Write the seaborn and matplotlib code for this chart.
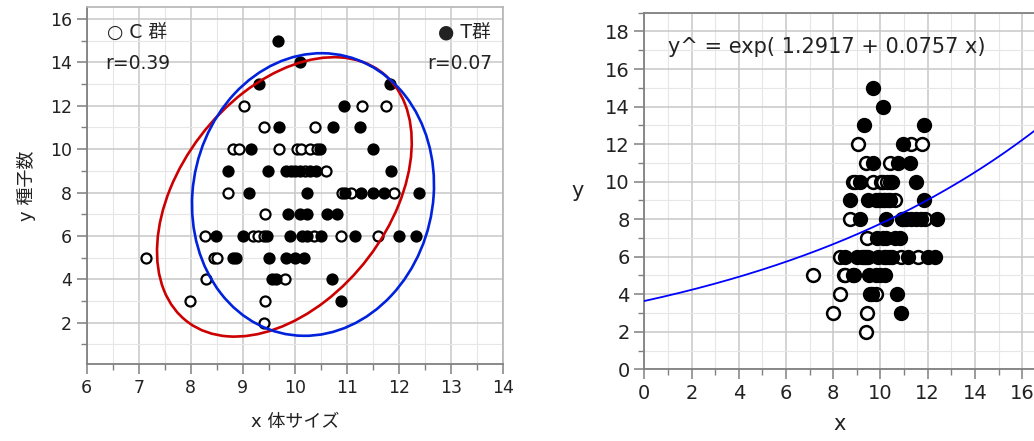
import numpy as np
import pandas as pd
import matplotlib
matplotlib.use("Agg")
import matplotlib.pyplot as plt
import seaborn as sns
from matplotlib.patches import Ellipse
from matplotlib.ticker import MultipleLocator

# ---------------- data ----------------
c_x = [9.03, 11.29, 11.76, 9.40, 10.39, 8.82, 8.93, 9.70, 10.04, 10.12, 10.29, 10.42,
       9.92, 10.20, 10.60, 8.71, 10.90, 11.08, 11.90, 9.42, 8.27, 9.20, 9.30, 9.40,
       10.36, 10.88, 11.60, 7.15, 8.45, 8.51, 8.29, 9.81, 7.99, 9.42, 9.40]
c_y = [12, 12, 12, 11, 11, 10, 10, 10, 10, 10, 10, 10,
       9, 9, 9, 8, 8, 8, 8, 7, 6, 6, 6, 6,
       6, 6, 6, 5, 5, 5, 4, 4, 3, 3, 2]
t_x = [9.67, 10.10, 9.31, 11.83, 10.94, 9.69, 10.73, 11.26, 9.15, 10.49, 11.50,
       8.71, 9.49, 9.83, 10.00, 10.10, 10.30, 10.40, 11.85,
       9.12, 10.23, 10.97, 11.28, 11.50, 11.72, 12.38,
       9.86, 10.10, 10.23, 10.62, 10.82,
       8.48, 9.01, 9.47, 9.90, 10.13, 10.23, 10.50, 11.15, 12.00, 12.32,
       8.82, 8.87, 9.51, 9.83, 10.00, 10.18,
       9.56, 9.64, 10.71, 10.88]
t_y = [15, 14, 13, 13, 12, 11, 11, 11, 10, 10, 10,
       9, 9, 9, 9, 9, 9, 9, 9,
       8, 8, 8, 8, 8, 8, 8,
       7, 7, 7, 7, 7,
       6, 6, 6, 6, 6, 6, 6, 6, 6, 6,
       5, 5, 5, 5, 5, 5,
       4, 4, 4, 3]
r_c = 0.39
r_t = 0.07
# 95% density ellipse parameters (mean x, mean y, sd x, sd y)
ell_c = [9.80, 7.80, 1.00, 2.63]
ell_t = [10.35, 7.91, 0.95, 2.66]
b0, b1 = 1.2917, 0.0757
eq_text = "y^ = exp( 1.2917 + 0.0757 x)"

df_c = pd.DataFrame({"x": c_x, "y": c_y})
df_t = pd.DataFrame({"x": t_x, "y": t_y})

sns.set_style("white")
plt.rcParams["font.family"] = ["DejaVu Sans", "Noto Sans CJK JP"]

fig = plt.figure(figsize=(10.34, 4.41), dpi=100)
axL = fig.add_axes([0.0838, 0.1746, 0.4026, 0.8095])
axR = fig.add_axes([0.6231, 0.1626, 0.3769, 0.8086])

MAJ = "#c8c8c8"
MIN = "#e6e6e6"


def style_axes(ax, lab_size):
    ax.set_axisbelow(True)
    ax.grid(which="major", color=MAJ, lw=1.1)
    ax.grid(which="minor", color=MIN, lw=0.8)
    ax.tick_params(which="major", length=7, width=1.1, color="#808080",
                   labelsize=lab_size, labelcolor="#222222", direction="out",
                   bottom=True, left=True)
    ax.tick_params(which="minor", length=4, width=1.0, color="#808080",
                   direction="out", bottom=True, left=True)


# ---------------- left panel ----------------
sns.scatterplot(data=df_c, x="x", y="y", ax=axL, marker="o", s=52,
                facecolor="white", edgecolor="black", linewidth=1.6, zorder=3)
sns.scatterplot(data=df_t, x="x", y="y", ax=axL, marker="o", s=52,
                color="black", edgecolor="black", linewidth=1.6, zorder=4)


def density_ellipse(ax, params, r, color):
    mx, my, sx, sy = params
    cov = np.array([[sx * sx, r * sx * sy], [r * sx * sy, sy * sy]])
    vals, vecs = np.linalg.eigh(cov)
    order = vals.argsort()[::-1]
    vals, vecs = vals[order], vecs[:, order]
    k = np.sqrt(5.991)
    ang = np.degrees(np.arctan2(vecs[1, 0], vecs[0, 0]))
    e = Ellipse((mx, my), 2 * k * np.sqrt(vals[0]), 2 * k * np.sqrt(vals[1]),
                angle=ang, fill=False, edgecolor=color, lw=1.9, zorder=5)
    ax.add_patch(e)


density_ellipse(axL, ell_c, r_c, "#cc0000")
density_ellipse(axL, ell_t, r_t, "#0022dd")

axL.set_xlim(6, 14)
axL.set_ylim(0.1, 16.55)
axL.xaxis.set_major_locator(MultipleLocator(1))
axL.xaxis.set_minor_locator(MultipleLocator(0.5))
axL.yaxis.set_major_locator(MultipleLocator(2))
axL.yaxis.set_minor_locator(MultipleLocator(1))
style_axes(axL, 12.5)
for s in ["left", "bottom"]:
    axL.spines[s].set_color("#808080")
    axL.spines[s].set_linewidth(1.3)
for s in ["top", "right"]:
    axL.spines[s].set_color("#b4b4b4")
    axL.spines[s].set_linewidth(1.2)
axL.set_xlabel("x 体サイズ", fontsize=13, color="#222222", labelpad=12)
axL.set_ylabel("y 種子数", fontsize=13, color="#222222", labelpad=10)

axL.text(0.05, 0.927, "○ C 群", transform=axL.transAxes, fontsize=13.5,
         ha="left", va="center", color="#222222")
axL.text(0.045, 0.843, f"r={r_c:.2f}", transform=axL.transAxes, fontsize=13.5,
         ha="left", va="center", color="#222222")
axL.text(0.97, 0.927, "● T群", transform=axL.transAxes, fontsize=13.5,
         ha="right", va="center", color="#222222")
axL.text(0.975, 0.843, f"r={r_t:.2f}", transform=axL.transAxes, fontsize=13.5,
         ha="right", va="center", color="#222222")

# ---------------- right panel ----------------
sns.scatterplot(data=df_c, x="x", y="y", ax=axR, marker="o", s=85,
                facecolor="white", edgecolor="black", linewidth=1.8, zorder=3)
sns.scatterplot(data=df_t, x="x", y="y", ax=axR, marker="o", s=85,
                color="black", edgecolor="black", linewidth=1.8, zorder=4)
curve_x = np.linspace(0, 16.6, 200)
curve_y = np.exp(b0 + b1 * curve_x)
sns.lineplot(x=curve_x, y=curve_y, ax=axR, color="#0000ff", lw=1.3, zorder=5)

axR.set_xlim(0, 16.5)
axR.set_ylim(0, 19.0)
axR.xaxis.set_major_locator(MultipleLocator(2))
axR.xaxis.set_minor_locator(MultipleLocator(1))
axR.yaxis.set_major_locator(MultipleLocator(2))
axR.yaxis.set_minor_locator(MultipleLocator(1))
style_axes(axR, 14)
for s in ["left", "bottom", "top"]:
    axR.spines[s].set_color("#808080")
    axR.spines[s].set_linewidth(1.3)
axR.spines["right"].set_visible(False)
axR.set_xlabel("x", fontsize=15, color="#222222", labelpad=8)
axR.set_ylabel("y", fontsize=15, color="#222222", rotation=0,
               ha="center", va="center")
axR.yaxis.set_label_coords(-0.17, 0.5)
axR.text(0.06, 0.905, eq_text, transform=axR.transAxes, fontsize=15,
         ha="left", va="center", color="#222222")

fig.savefig("out.png", dpi=100)
